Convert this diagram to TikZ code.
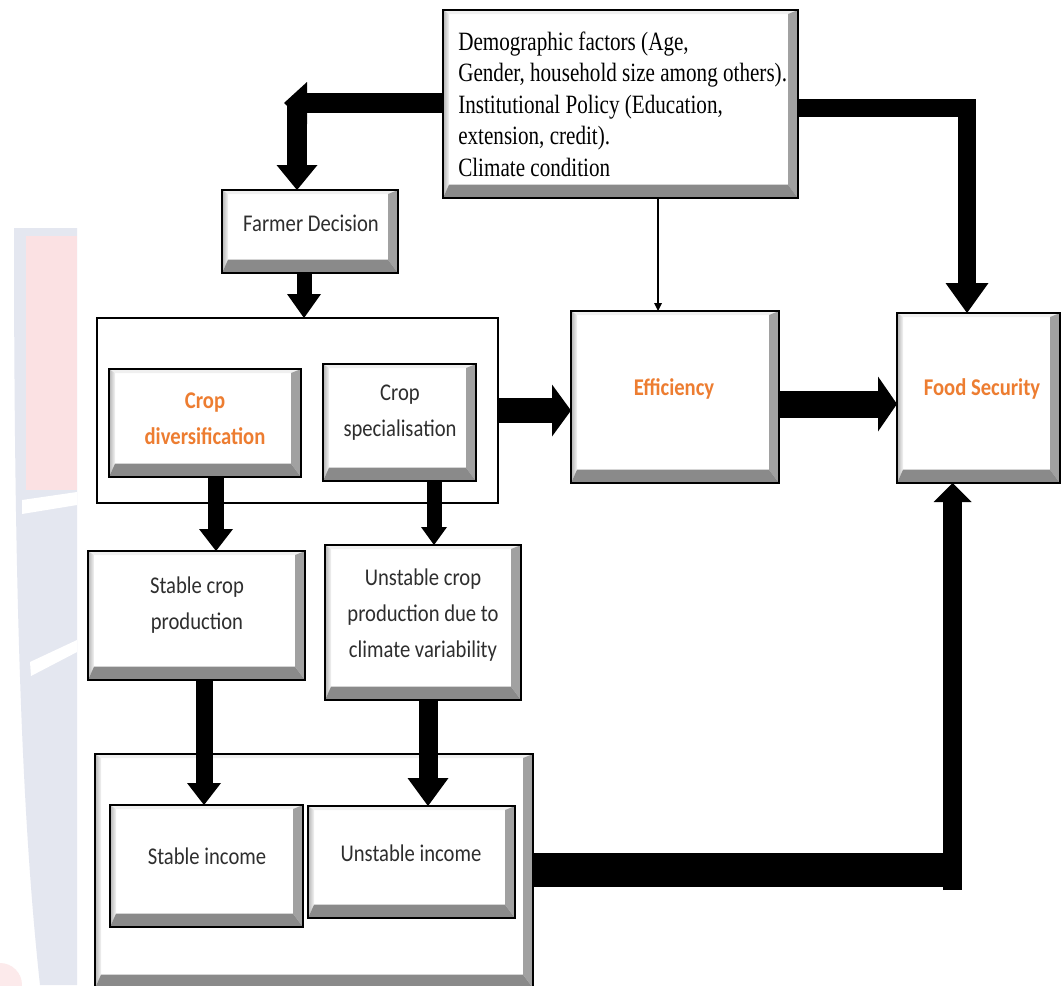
\documentclass[tikz,border=0pt]{standalone}
\usepackage{fontspec}
\setmainfont{Liberation Serif}
\newfontfamily\carl[FakeStretch=0.86]{Carlito}
\newfontfamily\tnrc[FakeStretch=0.80]{Liberation Serif}
\usetikzlibrary{arrows.meta}
\definecolor{orng}{RGB}{237,125,49}
\definecolor{lav}{RGB}{228,231,240}
\definecolor{wpink}{RGB}{251,225,227}
\def\bvL{4.5pt}\def\bvT{3pt}\def\bvR{7.5pt}\def\bvB{10pt}
\tikzset{
  bev/.style={draw=black, line width=1.5pt, fill=white, inner sep=0pt, outer sep=0pt, anchor=north west,
    path picture={
      \path (path picture bounding box.north west) coordinate (pNW)
            (path picture bounding box.south east) coordinate (pSE);
      \path (pNW |- pSE) coordinate (pSW) (pSE |- pNW) coordinate (pNE);
      \path ([shift={(\bvL,-\bvT)}]pNW) coordinate (qNW)
            ([shift={(-\bvR,-\bvT)}]pNE) coordinate (qNE)
            ([shift={(-\bvR,\bvB)}]pSE) coordinate (qSE)
            ([shift={(\bvL,\bvB)}]pSW) coordinate (qSW);
      \fill[black!6] (pNW) -- (pNE) -- (qNE) -- (qNW) -- cycle;
      \shade[left color=black!30, right color=black!4] (pNW) -- (qNW) -- (qSW) -- (pSW) -- cycle;
      \fill[black!37] (pNE) -- (pSE) -- (qSE) -- (qNE) -- cycle;
      \fill[black!46] (pSW) -- (qSW) -- (qSE) -- (pSE) -- cycle;
    }},
  frame/.style={draw=black, line width=1.5pt, fill=white, inner sep=0pt, outer sep=0pt, anchor=north west},
  fat/.style n args={3}{draw=black, line width=#1, line cap=butt, line join=miter,
    -{Triangle[length=#2, width=#3, line width=0pt]}},
  bar/.style={draw=black, line width=#1, line cap=butt},
  thinarr/.style={draw=black, line width=1.6pt, -{Triangle[length=6pt, width=6pt, line width=0pt]}},
  sanst/.style={font=\carl\fontsize{18pt}{27pt}\selectfont, text=black!82, align=center, inner sep=0pt},
  orngt/.style={font=\carl\bfseries\fontsize{18pt}{27pt}\selectfont, text=orng, align=center, inner sep=0pt},
  serift/.style={font=\tnrc\fontsize{19.8pt}{23.6pt}\selectfont, text=black, align=left, inner sep=0pt}
}
\newcommand\bevbox[6][bev]{\node[#1, minimum width={#5*0.75pt}, minimum height={#6*0.75pt}] (#2) at (#3,#4) {};}
\begin{document}
\begin{tikzpicture}[x=0.75pt,y=-0.75pt]
\useasboundingbox (0,0) rectangle (1062,985);
\fill[white] (0,0) rectangle (1062,985);
% faint watermark on the left
\begin{scope}
\clip (0,0) rectangle (1062,985);
\fill[lav] (14,228) -- (77,228) -- (77,985) -- (40,985) .. controls (22,820) and (14,600) .. (14,228) -- cycle;
\fill[wpink] (26,236) rectangle (77,490);
\fill[white] (22,500) -- (77,492) -- (77,505) -- (22,514) -- cycle;
\fill[white] (30,662) -- (77,640) -- (77,652) -- (31,676) -- cycle;
\fill[wpink!70] (0,985) circle (22);
\end{scope}

% boxes
\bevbox{top}{443}{10}{355}{188}
\bevbox{fd}{222}{190}{176}{83}
\bevbox[frame]{cont}{97}{318}{401}{185}
\bevbox{cd}{109}{369}{192}{108}
\bevbox{cs}{323}{364}{153}{117}
\bevbox{eff}{571}{311}{208}{172}
\bevbox{food}{897}{313}{163}{170}
\bevbox{scp}{88}{551}{217}{129}
\bevbox{ucp}{325}{545}{196}{155}
\bevbox{bc}{95}{754}{438}{234}
\bevbox{si}{110}{805}{193}{122}
\bevbox{ui}{308}{806}{207}{112}

% texts
\node[serift, anchor=west] (topt) at (458,104) {Demographic factors (Age,\\Gender, household size among others).\\Institutional Policy (Education,\\extension, credit).\\Climate condition};
\node[sanst] (fdt) at (311,223) {Farmer Decision};
\node[orngt] (cdt) at (205,419) {Crop\\diversification};
\node[sanst] (cst) at (400,413) {Crop\\specialisation};
\node[orngt] (efft) at (674,389) {Efficiency};
\node[orngt] (foodt) at (982,389) {Food Security};
\node[sanst] (scpt) at (197,605) {Stable crop\\production};
\node[sanst] (ucpt) at (423,615) {Unstable crop\\production due to\\climate variability};
\node[sanst] (sit) at (207,856) {Stable income};
\node[sanst] (uit) at (411,853) {Unstable income};

% coordinates for bends
\coordinate (ltip) at (284,103);
\coordinate (lcorner) at (297,103);
\coordinate (rcorner) at (967,108);
\coordinate (tx) at (658,250);
\coordinate (x1) at (216,0);
\coordinate (x2) at (434,0);
\coordinate (x3) at (204,0);
\coordinate (x4) at (428,0);
\coordinate (bh) at (962,869.5);
\coordinate (bv) at (952.5,890);

% connectors
\draw[fat={15pt}{17.25pt}{31.5pt}] (top.west |- ltip) -- (ltip);
\draw[fat={15pt}{18.75pt}{30.75pt}] (lcorner) -- (lcorner |- fd.north);
\draw[fat={11.25pt}{18pt}{25.5pt}] ([xshift=-4.5pt]fd.south) -- ([xshift=-4.5pt]fd.south |- cont.north);
\draw[fat={18.75pt}{14.25pt}{39pt}] (cont.east) -- (cont.east -| eff.west);
\draw[fat={20.25pt}{14.25pt}{41.25pt}] ([yshift=-5.25pt]eff.east) -- ([yshift=-5.25pt]eff.east -| food.west);
\draw[fat={13.5pt}{22.5pt}{32.25pt}] (top.east |- rcorner) -- (rcorner) -- (rcorner |- food.north);
\draw[thinarr] (top.south -| tx) -- (eff.north -| tx);
\draw[fat={12pt}{16.5pt}{25.5pt}] (cd.south -| x1) -- (scp.north -| x1);
\draw[fat={11.25pt}{13.5pt}{19.5pt}] (cs.south -| x2) -- (ucp.north -| x2);
\draw[fat={12.75pt}{16.5pt}{25.5pt}] (scp.south -| x3) -- (si.north -| x3);
\draw[fat={14.25pt}{21pt}{30.75pt}] (ucp.south -| x4) -- (ui.north -| x4);
\draw[bar=25.5pt] (bc.east |- bh) -- (bh);
\draw[fat={14.25pt}{14.25pt}{28.5pt}] (bv) -- (bv |- food.south);
\end{tikzpicture}
\end{document}
